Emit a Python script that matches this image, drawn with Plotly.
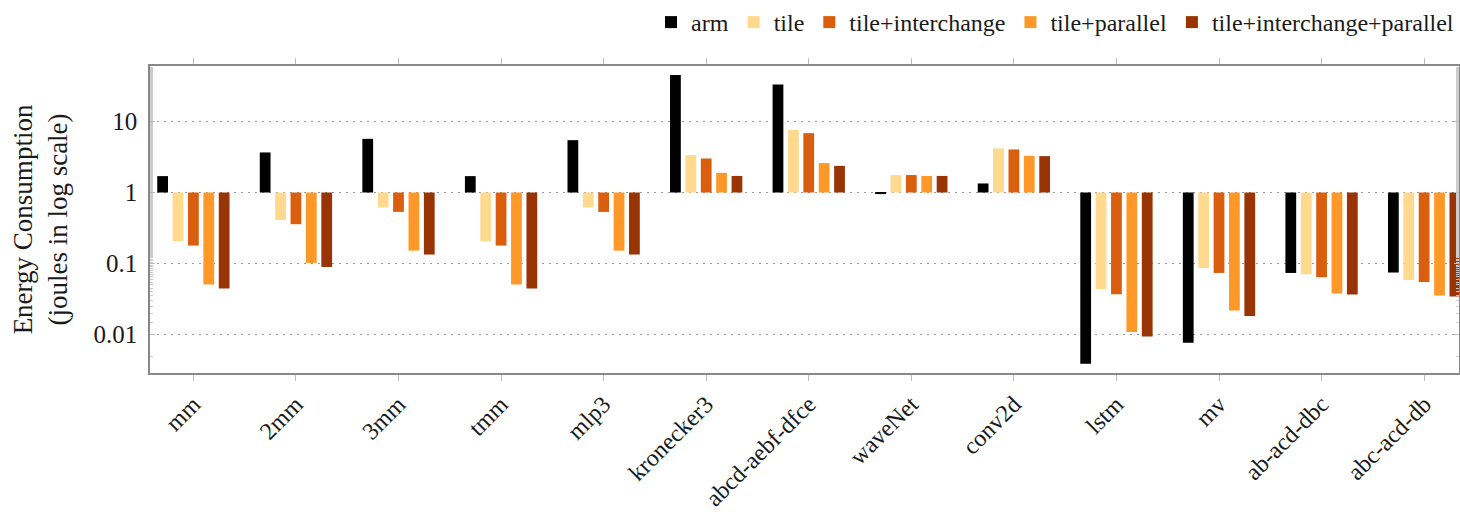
import plotly.graph_objects as go

# Benchmarks on the x axis
categories = ["mm", "2mm", "3mm", "tmm", "mlp3", "kronecker3", "abcd-aebf-dfce",
              "waveNet", "conv2d", "lstm", "mv", "ab-acd-dbc", "abc-acd-db"]

# Energy consumption (joules) per configuration
arm = [1.70, 3.66, 5.69, 1.70, 5.45, 44.9, 33.2, 0.95, 1.34, 0.0039, 0.0077, 0.0738, 0.0748]
tile = [0.206, 0.411, 0.615, 0.206, 0.615, 3.35, 7.62, 1.76, 4.17, 0.044, 0.0867, 0.0707, 0.0588]
tile_interchange = [0.179, 0.358, 0.533, 0.179, 0.533, 3.01, 6.84, 1.76, 4.03, 0.037, 0.0738, 0.0642, 0.0551]
tile_parallel = [0.0506, 0.102, 0.152, 0.0506, 0.152, 1.89, 2.59, 1.71, 3.28, 0.0109, 0.0218, 0.0378, 0.0354]
tile_interchange_parallel = [0.0445, 0.0896, 0.134, 0.0445, 0.134, 1.71, 2.37, 1.71, 3.25, 0.0094, 0.0183, 0.0366, 0.0343]

series = [
    ("arm", arm, "#000000"),
    ("tile", tile, "#fed98e"),
    ("tile+interchange", tile_interchange, "#d95f0e"),
    ("tile+parallel", tile_parallel, "#fe9929"),
    ("tile+interchange+parallel", tile_interchange_parallel, "#993404"),
]

y_ticks = [0.01, 0.1, 1, 10]
y_tick_labels = ["0.01", "0.1", "1", "10"]

FONT = "Liberation Serif"

fig = go.Figure()
for name, values, color in series:
    # bars grow from 1 towards each value (up or down on the log axis)
    fig.add_trace(go.Bar(
        x=categories,
        y=[v - 1 for v in values],
        base=1,
        name=name,
        marker=dict(color=color, line=dict(width=0)),
    ))

fig.update_layout(
    width=1460, height=517,
    margin=dict(l=150, r=1, t=66, b=144, autoexpand=False),
    paper_bgcolor="white", plot_bgcolor="white",
    barmode="group", bargap=0.25, bargroupgap=0.3,
    font=dict(family=FONT, size=25, color="#1a1a1a"),
    legend=dict(
        orientation="h", x=1.0, xanchor="right", y=1.0, yref="container",
        yanchor="top", font=dict(family=FONT, size=24),
        itemwidth=30, tracegroupgap=0, bgcolor="rgba(0,0,0,0)",
    ),
)

fig.update_xaxes(
    type="category", range=[-0.423, 12.34], automargin=False,
    tickangle=-45, tickfont=dict(family=FONT, size=24),
    ticks="outside", ticklen=6, tickcolor="#bbb", mirror="ticks",
    ticklabelstandoff=0,
    showline=True, linecolor="#888", linewidth=1.5,
    showgrid=False,
)

fig.update_yaxes(
    type="log", range=[-2.54, 1.78], automargin=False,
    tickvals=y_ticks, ticktext=y_tick_labels,
    tickfont=dict(family=FONT, size=25),
    ticks="inside", ticklen=5, tickcolor="#bbb", mirror="ticks",
    ticklabelstandoff=6,
    minor=dict(ticks="inside", ticklen=3, tickcolor="#ccc", showgrid=False),
    showline=True, linecolor="#888", linewidth=1.5,
    showgrid=True, gridcolor="#999", griddash="2px,5px", gridwidth=1,
    zeroline=False,
    title=dict(text="Energy Consumption<br>(joules in log scale)",
               font=dict(family=FONT, size=27), standoff=18),
)

fig.write_html("out.html")
